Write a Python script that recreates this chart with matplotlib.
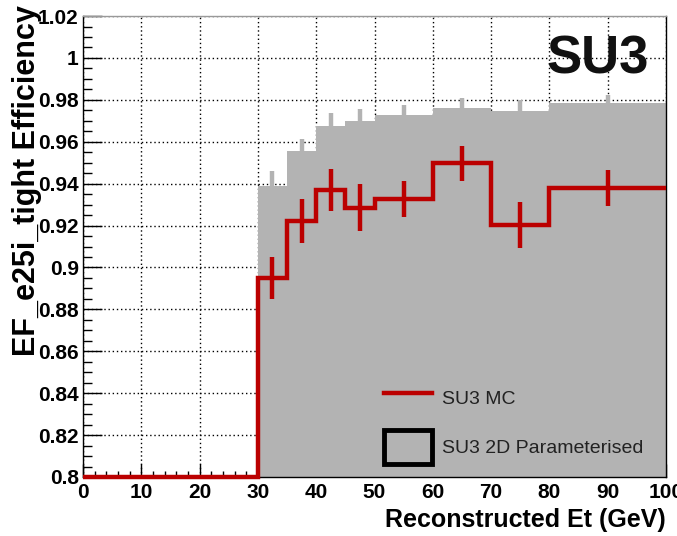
import matplotlib
matplotlib.use("Agg")
import matplotlib.pyplot as plt
from matplotlib.lines import Line2D
from matplotlib.patches import Patch
import numpy as np

plt.rcParams['font.family'] = ['Liberation Sans', 'DejaVu Sans']

# bin edges in reconstructed Et (GeV)
edges = [0, 30, 35, 40, 45, 50, 60, 70, 80, 100]

# SU3 2D parameterised efficiency and its (upper) error
param_eff = [0.0, 0.9389, 0.9555, 0.9675, 0.9698, 0.9730, 0.9760, 0.9746, 0.9787]
param_err = [0.0, 0.0070, 0.0060, 0.0060, 0.0060, 0.0045, 0.0050, 0.0055, 0.0035]

# SU3 MC efficiency and its error
mc_eff = [0.0, 0.8949, 0.9222, 0.9370, 0.9286, 0.9327, 0.9497, 0.9204, 0.9378]
mc_err = [0.0, 0.0100, 0.0105, 0.0100, 0.0110, 0.0088, 0.0085, 0.0110, 0.0085]

ymin, ymax = 0.8, 1.02
red = '#bb0000'
grey = '#b3b3b3'

edges_a = np.array(edges)
centers = 0.5 * (edges_a[1:] + edges_a[:-1])

fig = plt.figure(figsize=(6.77, 5.36), dpi=100)
ax = fig.add_axes([0.1226, 0.1101, 0.8612, 0.8600])

# parameterised histogram: filled with upward error bars
ax.stairs(param_eff, edges, fill=True, color=grey, zorder=2)
ax.errorbar(centers[1:], param_eff[1:], yerr=param_err[1:], fmt='none',
            ecolor=grey, elinewidth=3.2, capsize=0, zorder=2)

# MC histogram (values below the axis minimum drawn at the minimum)
ax.stairs(np.clip(mc_eff, ymin, None), edges, baseline=None, color=red,
          lw=3.2, zorder=4, clip_on=False)
ax.errorbar(centers[1:], mc_eff[1:], yerr=mc_err[1:], fmt='none',
            ecolor=red, elinewidth=3.2, capsize=0, zorder=4)

ax.set_xlim(0, 100)
ax.set_ylim(ymin, ymax)
ax.set_xticks(np.arange(0, 101, 10))
ax.set_xticks(np.arange(0, 101, 2), minor=True)
ax.set_yticks(np.arange(0.8, 1.0201, 0.02))
ax.set_yticks(np.arange(0.8, 1.0201, 0.005), minor=True)
ax.set_yticklabels(['0.8', '0.82', '0.84', '0.86', '0.88', '0.9', '0.92',
                    '0.94', '0.96', '0.98', '1', '1.02'])

ax.tick_params(axis='both', which='both', direction='in', width=1,
               labelsize=15, colors='black')
ax.tick_params(axis='x', which='major', length=9.5, pad=4)
ax.tick_params(axis='x', which='minor', length=4.5)
ax.tick_params(axis='y', which='major', length=13.5, pad=3)
ax.tick_params(axis='y', which='minor', length=6.5)
for lab in ax.get_xticklabels() + ax.get_yticklabels():
    lab.set_fontweight('bold')

ax.grid(True, which='major', color='black', linestyle=(0, (1, 2)), lw=1)
ax.set_axisbelow(True)
for s in ax.spines.values():
    s.set_linewidth(1)
ax.spines['top'].set_color('#999999')

ax.set_xlabel('Reconstructed Et (GeV)', fontsize=18, fontweight='bold',
              loc='right', labelpad=5)
ax.set_ylabel('EF_e25i_tight Efficiency', fontsize=22, fontweight='bold',
              loc='top')
ax.yaxis.set_label_coords(-0.07, 1.024)

ax.text(0.97, 0.875, 'SU3', transform=ax.transAxes, fontsize=38,
        fontweight='bold', ha='right', va='baseline', color='#111111')

handles = [Line2D([], [], color=red, lw=3.2),
           Patch(facecolor='none', edgecolor='black', lw=3.5, joinstyle='round')]
ax.legend(handles, ['SU3 MC', 'SU3 2D Parameterised'], loc='lower left',
          bbox_to_anchor=(0.50, 0.008), frameon=False, fontsize=14,
          handlelength=2.45, handleheight=2.3, handletextpad=0.5,
          labelspacing=0.75, borderpad=0, labelcolor='#222222')

fig.savefig('out.png', dpi=100)
